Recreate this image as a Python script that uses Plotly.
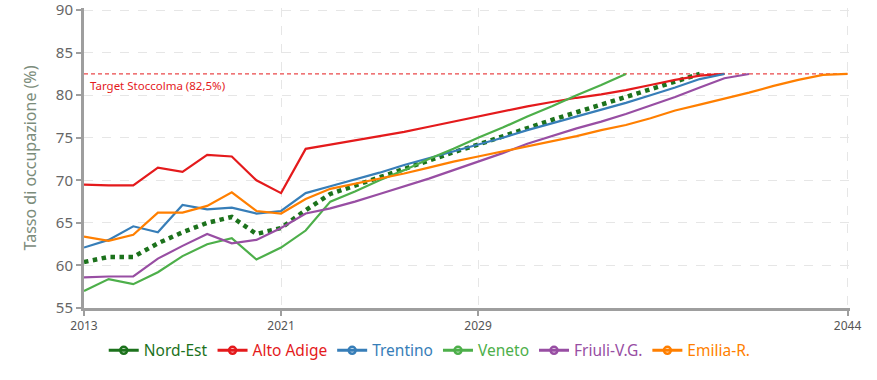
import plotly.graph_objects as go

years = list(range(2013, 2045))

nord_est = [60.4, 61.0, 61.0, 62.6, 63.9, 65.0, 65.7, 63.7, 64.4,
            66.5, 68.4, 69.4, 70.4, 71.4, 72.3, 73.3, 74.2, 75.2, 76.2, 77.1, 78.0,
            78.9, 79.8, 80.7, 81.7, 82.5]
alto_adige = [69.5, 69.4, 69.4, 71.5, 71.0, 73.0, 72.8, 70.0, 68.5,
              73.7, 74.2, 74.7, 75.2, 75.7, 76.3, 76.9, 77.5, 78.1, 78.7, 79.2, 79.7,
              80.1, 80.6, 81.2, 81.8, 82.3, 82.5]
trentino = [62.1, 63.0, 64.6, 63.9, 67.1, 66.6, 66.8, 66.1, 66.4,
            68.5, 69.3, 70.1, 70.9, 71.8, 72.6, 73.4, 74.2, 75.0, 75.9, 76.7, 77.5,
            78.3, 79.1, 80.0, 80.9, 81.9, 82.5]
veneto = [57.0, 58.4, 57.8, 59.2, 61.1, 62.5, 63.2, 60.7, 62.1,
          64.1, 67.5, 68.7, 70.0, 71.2, 72.5, 73.7, 75.0, 76.2, 77.5, 78.7, 80.0,
          81.2, 82.5]
friuli = [58.6, 58.7, 58.7, 60.8, 62.3, 63.7, 62.6, 63.0, 64.4,
          66.1, 66.7, 67.5, 68.4, 69.3, 70.2, 71.2, 72.2, 73.2, 74.3, 75.2, 76.1,
          76.9, 77.8, 78.8, 79.8, 80.9, 82.0, 82.5]
emilia = [63.4, 62.9, 63.6, 66.2, 66.2, 67.0, 68.6, 66.4, 66.1,
          67.8, 69.0, 69.6, 70.2, 70.8, 71.5, 72.2, 72.8, 73.4, 74.0, 74.6, 75.2,
          75.9, 76.5, 77.3, 78.2, 78.9, 79.6, 80.3, 81.1, 81.8, 82.4, 82.5]

series_names = ["Nord-Est", "Alto Adige", "Trentino", "Veneto", "Friuli-V.G.", "Emilia-R."]
series_values = [nord_est, alto_adige, trentino, veneto, friuli, emilia]
series_colors = ["#1c721c", "#e41a1c", "#377eb8", "#4daf4a", "#984ea3", "#ff7f00"]

target_value = 82.5
target_label = "Target Stoccolma (82,5%)"
x_ticks = [2013, 2021, 2029, 2044]
y_min, y_max, y_step = 55, 90, 5

FONT = "Segoe UI, Noto Sans, Open Sans, sans-serif"

fig = go.Figure()

# target line
fig.add_trace(go.Scatter(
    x=[years[0], years[-1]], y=[target_value, target_value], mode="lines",
    line=dict(color="rgba(228,26,28,0.8)", width=1.3, dash="4px,3px"),
    showlegend=False, hoverinfo="skip"))

for name, vals, col in zip(series_names, series_values, series_colors):
    is_total = name == "Nord-Est"
    fig.add_trace(go.Scatter(
        x=years[:len(vals)], y=vals, mode="lines", name=name,
        line=dict(color=col, width=4.5 if is_total else 2.2, dash="dot" if is_total else "solid"),
        showlegend=False))

for name, col in zip(series_names, series_colors):
    fig.add_trace(go.Scatter(
        x=[None], y=[None], mode="lines+markers",
        name=f"<span style='color:{col}'>{name}</span>",
        line=dict(color=col, width=3),
        marker=dict(symbol="circle-open", size=7, color=col, line=dict(width=2.5, color=col)),
        showlegend=True))

fig.add_annotation(x=years[0], y=target_value, xref="x", yref="y",
                   text=target_label, showarrow=False, xanchor="left", yanchor="top",
                   xshift=4, yshift=-2, font=dict(family=FONT, size=11.5, color="#e41a1c"))

# ranges are padded by ~2px so the edge gridlines (90, 2044) are drawn too
fig.update_layout(
    width=877, height=380,
    margin=dict(l=84, r=26.5, t=7.9, b=72, autoexpand=False),
    plot_bgcolor="white", paper_bgcolor="white",
    font=dict(family=FONT, color="#666"),
    legend=dict(orientation="h", xref="container", yref="container", x=0.49, y=0.077,
                xanchor="center", yanchor="middle", font=dict(family=FONT, size=15.5),
                itemwidth=30, tracegroupgap=0),
    xaxis=dict(range=[2013, 2044.1], tickmode="array", tickvals=x_ticks,
               ticktext=[str(t) for t in x_ticks], automargin=False,
               showgrid=True, gridcolor="#e6e6e6", griddash="dash", gridwidth=1,
               showline=True, linecolor="#9e9e9e", linewidth=3,
               ticks="outside", ticklen=5, tickcolor="#9e9e9e", tickwidth=1.5,
               ticklabeloverflow="allow",
               tickfont=dict(family=FONT, size=12, color="#555"), zeroline=False),
    yaxis=dict(range=[y_min, y_max + 0.25], tickmode="linear", tick0=y_min, dtick=y_step,
               automargin=False, ticklabeloverflow="allow",
               showgrid=True, gridcolor="#e6e6e6", griddash="dash", gridwidth=1,
               showline=True, linecolor="#9e9e9e", linewidth=3,
               ticks="outside", ticklen=5, tickcolor="#9e9e9e", tickwidth=1.5,
               tickfont=dict(family=FONT, size=15, color="#666"), zeroline=False,
               title=dict(text="Tasso di occupazione (%)", standoff=16,
                          font=dict(family=FONT, size=16, color="#7b8c7b"))),
)

fig.write_html("out.html", config={"displayModeBar": False},
               post_script="document.body.style.margin='0';")
